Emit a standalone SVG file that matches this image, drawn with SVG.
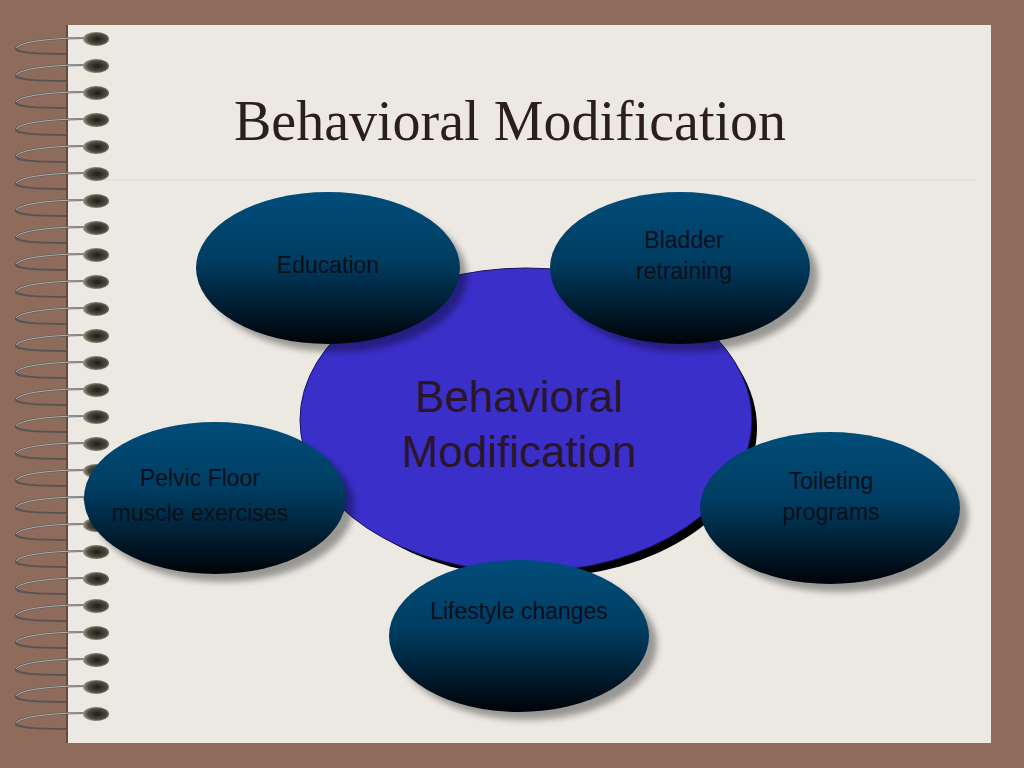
<svg xmlns="http://www.w3.org/2000/svg" xmlns:xlink="http://www.w3.org/1999/xlink" width="1024" height="768" viewBox="0 0 1024 768">
<style>
.lbl{font-family:"Liberation Sans",Arial,sans-serif;font-size:23px;fill:#0a0f1a;text-anchor:middle}
.big{font-family:"Liberation Sans",Arial,sans-serif;font-size:44px;fill:#2a1628;text-anchor:middle}
.oval{fill:url(#g)}
.sh{fill:#000;opacity:0.35;filter:url(#blur)}
</style>
<defs>
<linearGradient id="g" x1="0" y1="0" x2="0" y2="1"><stop offset="0" stop-color="#004d7a"/><stop offset="0.45" stop-color="#003d62"/><stop offset="1" stop-color="#000308"/></linearGradient>
<radialGradient id="b" cx="0.55" cy="0.5" r="0.6"><stop offset="0" stop-color="#1d1d14"/><stop offset="0.6" stop-color="#4a4a3c"/><stop offset="1" stop-color="#b0b0a0"/></radialGradient>
<filter id="blur" x="-20%" y="-20%" width="140%" height="140%"><feGaussianBlur stdDeviation="3"/></filter>
<symbol id="ring" overflow="visible">
<path d="M84,0 C50,0 20,4 16,10 C14,15 40,16 66,16" fill="none" stroke="#555" stroke-width="2"/>
<path d="M84,0 C50,0 20,4 16,10" fill="none" stroke="#ccc" stroke-width="0.8"/>
<ellipse cx="96" cy="1" rx="13" ry="7" fill="url(#b)"/>
</symbol>
</defs>
<rect width="1024" height="768" fill="#8e6b5a"/>
<rect x="67" y="25" width="924" height="718" fill="#ece9e3"/>
<line x1="67" y1="25" x2="67" y2="743" stroke="#6b4a3e" stroke-width="2"/>
<line x1="100" y1="180" x2="975" y2="180" stroke="#ddd8cc" stroke-width="1"/>
<text x="510" y="140" font-family="Liberation Serif,'Times New Roman',serif" font-size="56" fill="#2a1e1e" text-anchor="middle">Behavioral Modification</text>
<g id="spiral">
<use xlink:href="#ring" y="38"/><use xlink:href="#ring" y="65"/><use xlink:href="#ring" y="92"/><use xlink:href="#ring" y="119"/><use xlink:href="#ring" y="146"/><use xlink:href="#ring" y="173"/><use xlink:href="#ring" y="200"/><use xlink:href="#ring" y="227"/><use xlink:href="#ring" y="254"/><use xlink:href="#ring" y="281"/><use xlink:href="#ring" y="308"/><use xlink:href="#ring" y="335"/><use xlink:href="#ring" y="362"/><use xlink:href="#ring" y="389"/><use xlink:href="#ring" y="416"/><use xlink:href="#ring" y="443"/><use xlink:href="#ring" y="470"/><use xlink:href="#ring" y="497"/><use xlink:href="#ring" y="524"/><use xlink:href="#ring" y="551"/><use xlink:href="#ring" y="578"/><use xlink:href="#ring" y="605"/><use xlink:href="#ring" y="632"/><use xlink:href="#ring" y="659"/><use xlink:href="#ring" y="686"/><use xlink:href="#ring" y="713"/>
</g>
<g id="connectors"/>
<g id="center">
<ellipse cx="535" cy="428" rx="222" ry="150" fill="#000"/>
<ellipse cx="526" cy="420" rx="226" ry="152" fill="#3a2fc8" stroke="#1a1060" stroke-width="1"/>
<text class="big" x="519" y="412">Behavioral</text>
<text class="big" x="519" y="467">Modification</text>
</g>
<g id="education"><ellipse class="sh" cx="336" cy="276" rx="131" ry="76"/><ellipse class="oval" cx="328" cy="268" rx="132" ry="76"/><text class="lbl" x="328" y="273">Education</text></g>
<g id="bladder"><ellipse class="sh" cx="688" cy="276" rx="130" ry="76"/><ellipse class="oval" cx="680" cy="268" rx="130" ry="76"/><text class="lbl" x="684" y="248">Bladder</text><text class="lbl" x="684" y="279">retraining</text></g>
<g id="pelvic"><ellipse class="sh" cx="223" cy="506" rx="131" ry="76"/><ellipse class="oval" cx="215" cy="498" rx="131" ry="76"/><text class="lbl" x="200" y="486">Pelvic Floor</text><text class="lbl" x="200" y="521">muscle exercises</text></g>
<g id="toileting"><ellipse class="sh" cx="838" cy="516" rx="130" ry="76"/><ellipse class="oval" cx="830" cy="508" rx="130" ry="76"/><text class="lbl" x="831" y="489">Toileting</text><text class="lbl" x="831" y="520">programs</text></g>
<g id="lifestyle"><ellipse class="sh" cx="527" cy="644" rx="130" ry="76"/><ellipse class="oval" cx="519" cy="636" rx="130" ry="76"/><text class="lbl" x="519" y="619">Lifestyle changes</text></g>
</svg>
